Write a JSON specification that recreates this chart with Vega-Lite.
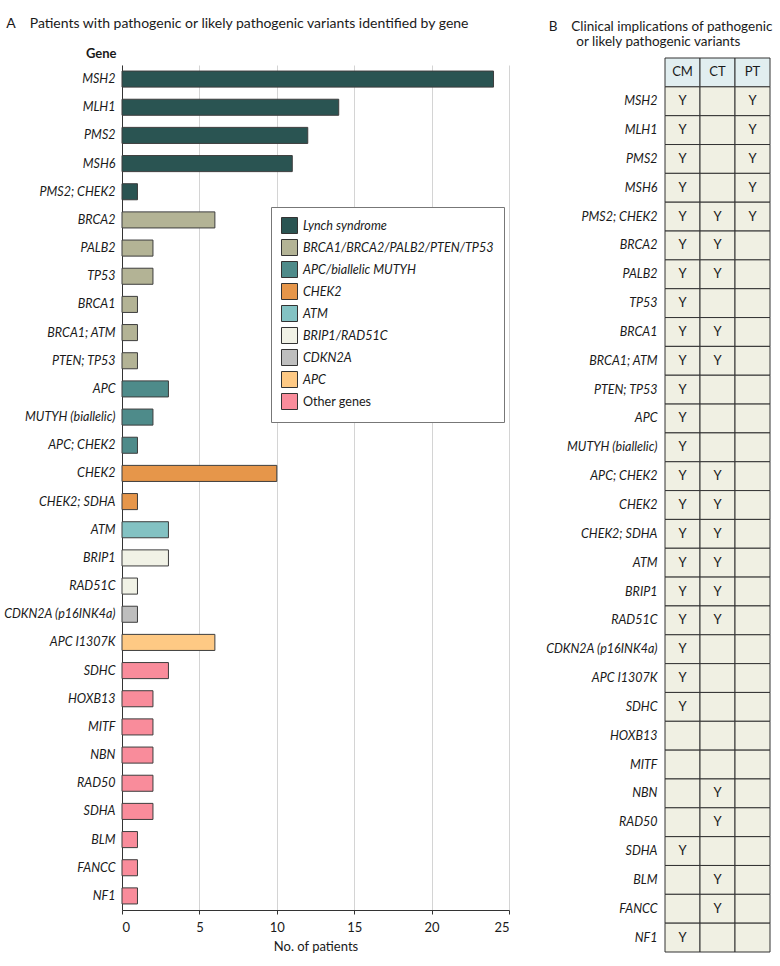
{
  "$schema": "https://vega.github.io/schema/vega-lite/v6.json",
  "padding": {"left": 3, "top": 17, "right": 5, "bottom": 5},
  "config": {
    "font": "Lato",
    "view": {"stroke": null},
    "axis": {"labelColor": "#1a1a1a", "titleColor": "#1a1a1a"},
    "title": {"color": "#1a1a1a", "subtitleColor": "#1a1a1a"},
    "concat": {"spacing": 35}
  },
  "datasets": {
    "genes": [
      {"gene": "hdr", "group": null, "n": null, "CM": "CM", "CT": "CT", "PT": "PT"},
      {"gene": "MSH2", "group": "Lynch syndrome", "n": 24, "CM": "Y", "CT": "", "PT": "Y"},
      {"gene": "MLH1", "group": "Lynch syndrome", "n": 14, "CM": "Y", "CT": "", "PT": "Y"},
      {"gene": "PMS2", "group": "Lynch syndrome", "n": 12, "CM": "Y", "CT": "", "PT": "Y"},
      {"gene": "MSH6", "group": "Lynch syndrome", "n": 11, "CM": "Y", "CT": "", "PT": "Y"},
      {"gene": "PMS2; CHEK2", "group": "Lynch syndrome", "n": 1, "CM": "Y", "CT": "Y", "PT": "Y"},
      {"gene": "BRCA2", "group": "BRCA1/BRCA2/PALB2/PTEN/TP53", "n": 6, "CM": "Y", "CT": "Y", "PT": ""},
      {"gene": "PALB2", "group": "BRCA1/BRCA2/PALB2/PTEN/TP53", "n": 2, "CM": "Y", "CT": "Y", "PT": ""},
      {"gene": "TP53", "group": "BRCA1/BRCA2/PALB2/PTEN/TP53", "n": 2, "CM": "Y", "CT": "", "PT": ""},
      {"gene": "BRCA1", "group": "BRCA1/BRCA2/PALB2/PTEN/TP53", "n": 1, "CM": "Y", "CT": "Y", "PT": ""},
      {"gene": "BRCA1; ATM", "group": "BRCA1/BRCA2/PALB2/PTEN/TP53", "n": 1, "CM": "Y", "CT": "Y", "PT": ""},
      {"gene": "PTEN; TP53", "group": "BRCA1/BRCA2/PALB2/PTEN/TP53", "n": 1, "CM": "Y", "CT": "", "PT": ""},
      {"gene": "APC", "group": "APC/biallelic MUTYH", "n": 3, "CM": "Y", "CT": "", "PT": ""},
      {"gene": "MUTYH (biallelic)", "group": "APC/biallelic MUTYH", "n": 2, "CM": "Y", "CT": "", "PT": ""},
      {"gene": "APC; CHEK2", "group": "APC/biallelic MUTYH", "n": 1, "CM": "Y", "CT": "Y", "PT": ""},
      {"gene": "CHEK2", "group": "CHEK2", "n": 10, "CM": "Y", "CT": "Y", "PT": ""},
      {"gene": "CHEK2; SDHA", "group": "CHEK2", "n": 1, "CM": "Y", "CT": "Y", "PT": ""},
      {"gene": "ATM", "group": "ATM", "n": 3, "CM": "Y", "CT": "Y", "PT": ""},
      {"gene": "BRIP1", "group": "BRIP1/RAD51C", "n": 3, "CM": "Y", "CT": "Y", "PT": ""},
      {"gene": "RAD51C", "group": "BRIP1/RAD51C", "n": 1, "CM": "Y", "CT": "Y", "PT": ""},
      {"gene": "CDKN2A (p16INK4a)", "group": "CDKN2A", "n": 1, "CM": "Y", "CT": "", "PT": ""},
      {"gene": "APC I1307K", "group": "APC", "n": 6, "CM": "Y", "CT": "", "PT": ""},
      {"gene": "SDHC", "group": "Other genes", "n": 3, "CM": "Y", "CT": "", "PT": ""},
      {"gene": "HOXB13", "group": "Other genes", "n": 2, "CM": "", "CT": "", "PT": ""},
      {"gene": "MITF", "group": "Other genes", "n": 2, "CM": "", "CT": "", "PT": ""},
      {"gene": "NBN", "group": "Other genes", "n": 2, "CM": "", "CT": "Y", "PT": ""},
      {"gene": "RAD50", "group": "Other genes", "n": 2, "CM": "", "CT": "Y", "PT": ""},
      {"gene": "SDHA", "group": "Other genes", "n": 2, "CM": "Y", "CT": "", "PT": ""},
      {"gene": "BLM", "group": "Other genes", "n": 1, "CM": "", "CT": "Y", "PT": ""},
      {"gene": "FANCC", "group": "Other genes", "n": 1, "CM": "", "CT": "Y", "PT": ""},
      {"gene": "NF1", "group": "Other genes", "n": 1, "CM": "Y", "CT": "", "PT": ""}
    ]
  },
  "data": {"name": "genes"},
  "hconcat": [
    {
      "title": {"text": "\u200b\u00a0A\u00a0\u00a0\u00a0\u00a0Patients with pathogenic or likely pathogenic variants identified by gene", "anchor": "start", "fontSize": 14, "fontWeight": "normal", "offset": 16},
      "width": 387,
      "height": 845,
      "transform": [{"filter": "datum.gene != 'hdr'"}],
      "mark": {"type": "bar", "stroke": "#3d3d3d", "strokeWidth": 1},
      "encoding": {
        "y": {
          "field": "gene", "type": "nominal", "sort": null,
          "scale": {"paddingInner": 0.43, "paddingOuter": 0.215},
          "axis": {"title": "Gene", "titleAngle": 0, "titleAlign": "right", "titleBaseline": "alphabetic", "titleX": -6, "titleY": -8, "titleFontSize": 13, "titleFontWeight": "bold", "labelFontStyle": "italic", "labelFontSize": 12.5, "labelPadding": 7, "ticks": false, "domainColor": "#333", "grid": false}
        },
        "x": {
          "field": "n", "type": "quantitative", "scale": {"domain": [0, 25]},
          "axis": {"title": "No. of patients", "values": [0, 5, 10, 15, 20, 25], "gridColor": "#d4d4d4", "domainColor": "#333", "tickColor": "#333", "tickSize": 4, "labelPadding": 7, "labelFontSize": 13, "titleFontSize": 13, "titleFontWeight": "normal", "titlePadding": 6}
        },
        "color": {
          "field": "group", "type": "nominal",
          "scale": {
            "domain": ["Lynch syndrome", "BRCA1/BRCA2/PALB2/PTEN/TP53", "APC/biallelic MUTYH", "CHEK2", "ATM", "BRIP1/RAD51C", "CDKN2A", "APC", "Other genes"],
            "range": ["#2a5452", "#b3b395", "#4e8b8a", "#e6964a", "#83c2c3", "#f1f2e6", "#bebebe", "#fec984", "#f98c9b"]
          },
          "legend": {
            "orient": "none", "legendX": 149, "legendY": 142, "title": null,
            "strokeColor": "#777", "fillColor": "white", "padding": 10,
            "symbolType": "square", "symbolSize": 256, "symbolStrokeColor": "#333", "symbolStrokeWidth": 1, "symbolOpacity": 1,
            "labelFontSize": 12.6, "labelFontStyle": "italic", "labelColor": "#1a1a1a", "labelLimit": 400, "rowPadding": 1, "labelOffset": 5,
            "encode": {"labels": {"update": {"fontStyle": {"signal": "datum.label == 'Other genes' ? 'normal' : 'italic'"}}}}
          }
        }
      }
    },
    {
      "title": {"text": "\u200b\u00a0B\u00a0\u00a0\u00a0\u00a0Clinical implications of pathogenic", "subtitle": "\u200b\u00a0\u00a0\u00a0\u00a0\u00a0\u00a0\u00a0\u00a0\u00a0or likely pathogenic variants", "anchor": "start", "fontSize": 13.5, "fontWeight": "normal", "subtitleFontSize": 13.5, "subtitlePadding": 2, "subtitleColor": "#1a1a1a", "offset": 9},
      "width": 105,
      "height": 887,
      "transform": [{"fold": ["CM", "CT", "PT"], "as": ["col", "val"]}],
      "encoding": {
        "y": {
          "field": "gene", "type": "nominal", "sort": null,
          "scale": {"padding": 0, "range": [-7, 887]},
          "axis": {"title": null, "labelExpr": "datum.value == 'hdr' ? '' : datum.value", "labelFontStyle": "italic", "labelFontSize": 12.5, "labelPadding": 8, "ticks": false, "domain": false, "grid": false}
        },
        "x": {"field": "col", "type": "nominal", "sort": ["CM", "CT", "PT"], "scale": {"padding": 0}, "axis": null}
      },
      "layer": [
        {
          "mark": {"type": "rect", "stroke": "#333", "strokeWidth": 1},
          "encoding": {"fill": {"condition": {"test": "datum.gene == 'hdr'", "value": "#e1eef0"}, "value": "#f0f0e3"}}
        },
        {
          "mark": {"type": "text", "fontSize": 13, "color": "#1a1a1a"},
          "encoding": {"text": {"field": "val"}}
        }
      ]
    }
  ]
}
